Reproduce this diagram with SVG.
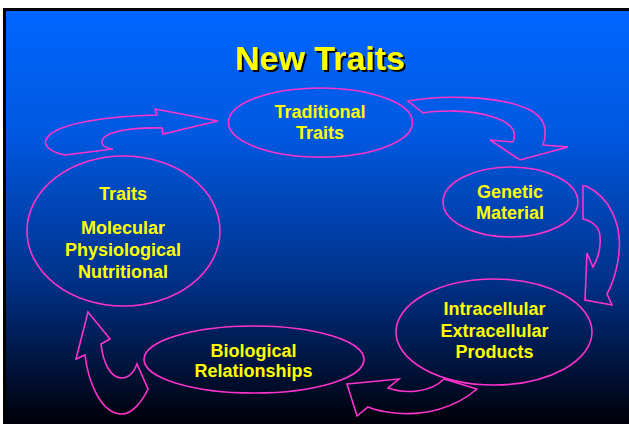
<svg xmlns="http://www.w3.org/2000/svg" width="629" height="424" viewBox="0 0 629 424">
  <defs>
    <linearGradient id="bg" x1="0" y1="11" x2="0" y2="424" gradientUnits="userSpaceOnUse">
      <stop offset="0" stop-color="#0066ff"/>
      <stop offset="0.3" stop-color="#0058e0"/>
      <stop offset="0.65" stop-color="#00318a"/>
      <stop offset="1" stop-color="#000008"/>
    </linearGradient>
    <filter id="shadow" x="-10%" y="-20%" width="120%" height="150%">
      <feFlood flood-color="#000000" result="c"/>
      <feComposite in="c" in2="SourceAlpha" operator="in" result="s"/>
      <feOffset in="s" dx="2" dy="2" result="o"/>
      <feMerge>
        <feMergeNode in="o"/>
        <feMergeNode in="SourceGraphic"/>
      </feMerge>
    </filter>
    <style>
      .shape { fill: none; stroke: #ff33cc; stroke-width: 1.6; stroke-linejoin: miter; }
      .lbl { font-family: "Liberation Sans", Arial, sans-serif; font-weight: bold; font-size: 18px; fill: #ffff00; text-anchor: middle; }
      .title { font-family: "Liberation Sans", Arial, sans-serif; font-weight: bold; font-size: 34px; fill: #ffff00; text-anchor: middle; }
    </style>
  </defs>
  <rect x="0" y="0" width="629" height="424" fill="#ffffff"/>
  <rect x="3" y="8" width="626" height="416" fill="#000000"/>
  <rect x="6" y="11" width="623" height="413" fill="url(#bg)"/>

  <g id="title">
    <text class="title" x="320" y="70" filter="url(#shadow)">New Traits</text>
  </g>

  <g id="connectors">
    <path class="shape" d="M65,155 C50,152 42,145 47,138 C56,123 110,116 157,115 L155,109 L218,121 L163,134 L162,128 C130,127 104,132 102,141 C101,146 108,149 113,149 Z"/>
    <path class="shape" d="M408,101 C440,95 500,95 530,110 C545,118 548,130 543,145 L568,147 L520,160 L490,140 L513,142 C518,130 510,122 490,116 C470,110 440,110 423,113 Z"/>
    <path class="shape" d="M583,186 L586,186 C610,197 622,225 619,253 C617,272 612,285 607,294 L612,305 L585,300 L587,253 L593,267 C602,252 602,232 596,226 C592,222 588,220 583,219 Z"/>
    <path class="shape" d="M347,384 L399,379 L388,388 C405,394 430,393 444,379 L477,389 C455,408 425,416 395,413 C385,412 375,410 368,407 L357,416 Z"/>
    <path class="shape" d="M88,312 L110,339 L101,344 C103,362 110,378 122,378 C130,378 135,370 137,364 L148,389 C142,402 132,414 122,414 C100,414 88,380 85,355 L76,359 Z"/>
  </g>

  <g id="traditional-traits">
    <ellipse class="shape" cx="320.5" cy="122.5" rx="92" ry="34.5"/>
    <text class="lbl" x="320" y="118">Traditional</text>
    <text class="lbl" x="320" y="139">Traits</text>
  </g>

  <g id="genetic-material">
    <ellipse class="shape" cx="510.5" cy="202" rx="67.5" ry="35"/>
    <text class="lbl" x="510" y="198">Genetic</text>
    <text class="lbl" x="510" y="219">Material</text>
  </g>

  <g id="products">
    <ellipse class="shape" cx="494" cy="332" rx="98" ry="53"/>
    <text class="lbl" x="494.5" y="315">Intracellular</text>
    <text class="lbl" x="494.5" y="337">Extracellular</text>
    <text class="lbl" x="494.5" y="358">Products</text>
  </g>

  <g id="biological-relationships">
    <ellipse class="shape" cx="254" cy="359.5" rx="110" ry="33.5"/>
    <text class="lbl" x="253.5" y="357">Biological</text>
    <text class="lbl" x="253.5" y="377">Relationships</text>
  </g>

  <g id="traits">
    <ellipse class="shape" cx="123.5" cy="231" rx="96.5" ry="75"/>
    <text class="lbl" x="123" y="200">Traits</text>
    <text class="lbl" x="123" y="234">Molecular</text>
    <text class="lbl" x="123" y="256">Physiological</text>
    <text class="lbl" x="123" y="278">Nutritional</text>
  </g>
</svg>
